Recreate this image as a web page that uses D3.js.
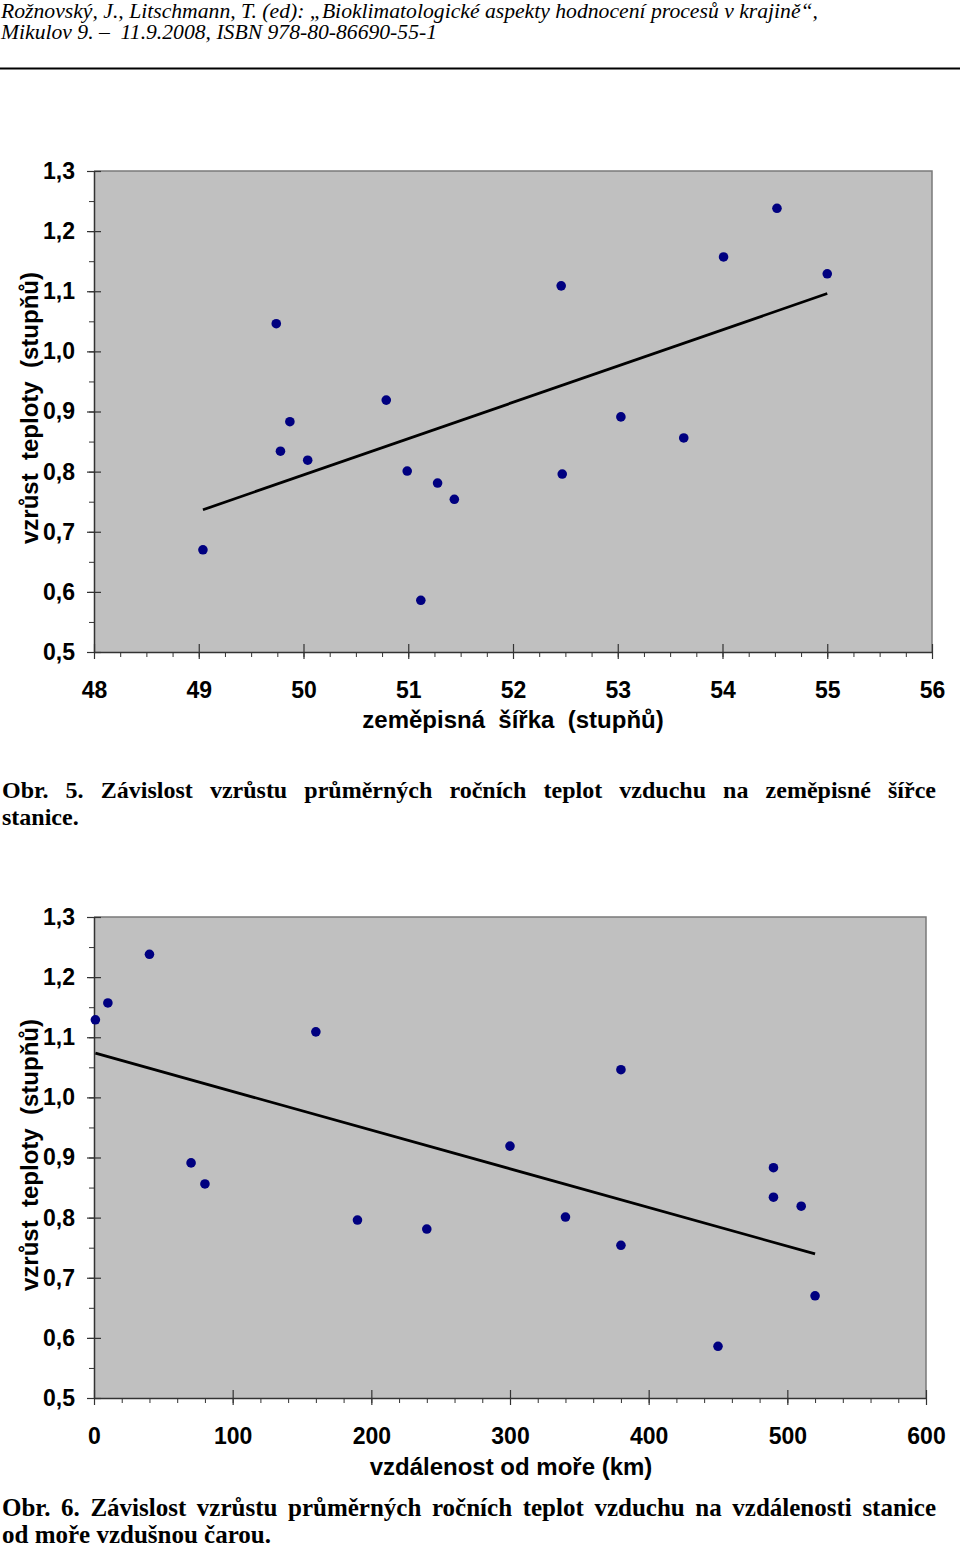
<!DOCTYPE html>
<html><head><meta charset="utf-8">
<script src="https://cdn.jsdelivr.net/npm/d3@7"></script>
<style>
body{margin:0;background:#fff;}
svg{display:block;}
</style></head>
<body>
<svg id="c" width="960" height="1548"></svg>
<script>
// ---- data ----
const latitude = [49.04, 49.74, 49.78, 49.87, 50.04, 50.79, 50.99, 51.12, 51.28, 51.44, 52.46, 52.47, 53.03, 53.63, 54.01, 54.52, 55.00];
const warming  = [0.670, 1.046, 0.834, 0.883, 0.819, 0.919, 0.801, 0.586, 0.781, 0.754, 1.109, 0.796, 0.891, 0.856, 1.157, 1.238, 1.129];
const distance = [520, 380, 490, 490, 510, 300, 340, 450, 240, 380, 160, 190, 70, 80, 10, 40, 1];
const latTicks = [48, 49, 50, 51, 52, 53, 54, 55, 56];
const distTicks = [0, 100, 200, 300, 400, 500, 600];
const yTicks = [0.5, 0.6, 0.7, 0.8, 0.9, 1.0, 1.1, 1.2, 1.3];
const headerLines = ["Rožnovský, J., Litschmann, T. (ed): „Bioklimatologické aspekty hodnocení procesů v krajině“,",
                     "Mikulov 9. –  11.9.2008, ISBN 978-80-86690-55-1"];
const caption5 = ["Obr. 5. Závislost vzrůstu průměrných ročních teplot vzduchu na zeměpisné šířce", "stanice."];
const caption6 = ["Obr. 6. Závislost vzrůstu průměrných ročních teplot vzduchu na vzdálenosti stanice", "od moře vzdušnou čarou."];

const svg = d3.select("#c");

// header
headerLines.forEach((t, i) => {
  svg.append("text").attr("x", 1).attr("y", 18 + i * 21)
    .attr("font-family", "Liberation Serif").attr("font-style", "italic")
    .attr("font-size", 20.5).attr("fill", "#000")
    .attr("textLength", i === 0 ? 817 : 436).attr("lengthAdjust", "spacingAndGlyphs")
    .style("white-space", "pre")
    .text(t);
});
svg.append("line").attr("x1", 0).attr("x2", 960).attr("y1", 68.5).attr("y2", 68.5)
  .attr("stroke", "#000").attr("stroke-width", 2);

function caption(lines, y0, size) {
  lines.forEach((t, i) => {
    const el = svg.append("text").attr("x", 2).attr("y", y0 + i * 27)
      .attr("font-family", "Liberation Serif").attr("font-weight", "bold")
      .attr("font-size", size).attr("fill", "#000").text(t);
    if (i === 0) {
      const w = el.node().getComputedTextLength();
      const n = t.split(" ").length - 1;
      el.attr("word-spacing", (936 - 2 - w) / n);
    }
  });
}
caption(caption5, 798, 24);
caption(caption6, 1516, 25);

function regression(xs, ys) {
  const mx = d3.mean(xs), my = d3.mean(ys);
  let sxy = 0, sxx = 0;
  xs.forEach((x, i) => { sxy += (x - mx) * (ys[i] - my); sxx += (x - mx) * (x - mx); });
  const b = sxy / sxx;
  return x => my + b * (x - mx);
}

function chart(opt) {
  const {xs, ys, x0, x1, y0, y1, xDomain, xTicks, xMinorStep, xTitle, titleX, titleY, yTitleCenter} = opt;
  const g = svg.append("g");
  const x = d3.scaleLinear().domain(xDomain).range([x0, x1]);
  const y = d3.scaleLinear().domain([0.5, 1.3]).range([y1, y0]);
  const font = "Liberation Sans";

  g.append("rect").attr("x", x0).attr("y", y0).attr("width", x1 - x0).attr("height", y1 - y0)
    .attr("fill", "#c0c0c0");
  g.append("path").attr("d", `M${x0},${y0}H${x1}V${y1}`).attr("fill", "none")
    .attr("stroke", "#7a7a7a").attr("stroke-width", 1.5);

  // minor ticks
  const xMinor = d3.range(xDomain[0], xDomain[1] + 1e-9, xMinorStep);
  const yMinor = d3.range(0.5, 1.3 + 1e-9, 0.05);
  g.append("g").attr("transform", `translate(0,${y1})`)
    .call(d3.axisBottom(x).tickValues(xMinor).tickSize(5).tickFormat(""))
    .call(a => a.select(".domain").remove())
    .call(a => a.selectAll("line").attr("stroke", "#333"));
  g.append("g").attr("transform", `translate(${x0},0)`)
    .call(d3.axisLeft(y).tickValues(yMinor).tickSize(5).tickFormat(""))
    .call(a => a.select(".domain").remove())
    .call(a => a.selectAll("line").attr("stroke", "#333"));

  // major ticks
  const xa = g.append("g").attr("transform", `translate(0,${y1})`)
    .call(d3.axisBottom(x).tickValues(xTicks).tickSizeInner(7).tickSizeOuter(0).tickPadding(23)
      .tickFormat(d3.format("d")));
  xa.select(".domain").attr("stroke", "#333").attr("stroke-width", 1.5);
  xa.selectAll(".tick line").attr("y1", -8).attr("stroke", "#333").attr("stroke-width", 1.2);
  xa.selectAll("text").attr("font-family", font).attr("font-weight", "bold")
    .attr("font-size", 23).attr("fill", "#000");

  const ya = g.append("g").attr("transform", `translate(${x0},0)`)
    .call(d3.axisLeft(y).tickValues(yTicks).tickSizeInner(7).tickSizeOuter(0).tickPadding(12)
      .tickFormat(d => d3.format(".1f")(d).replace(".", ",")));
  ya.select(".domain").attr("stroke", "#333").attr("stroke-width", 1.5);
  ya.selectAll(".tick line").attr("x1", 7).attr("x2", -7).attr("stroke", "#333").attr("stroke-width", 1.2);
  ya.selectAll("text").attr("font-family", font).attr("font-weight", "bold")
    .attr("font-size", 23).attr("fill", "#000");

  // regression line
  const f = regression(xs, ys);
  const ex = d3.extent(xs);
  g.append("line").attr("x1", x(ex[0])).attr("x2", x(ex[1]))
    .attr("y1", y(f(ex[0]))).attr("y2", y(f(ex[1])))
    .attr("stroke", "#000").attr("stroke-width", 2.8);

  // points
  g.selectAll("circle.pt").data(xs.map((v, i) => [v, ys[i]])).join("circle")
    .attr("class", "pt").attr("cx", d => x(d[0])).attr("cy", d => y(d[1]))
    .attr("r", 4.8).attr("fill", "#000080");

  // titles
  g.append("text").attr("x", titleX).attr("y", titleY).attr("text-anchor", "middle")
    .attr("font-family", font).attr("font-weight", "bold").attr("font-size", 24)
    .style("white-space", "pre").text(xTitle);
  g.append("text").attr("transform", `translate(38,${yTitleCenter}) rotate(-90)`)
    .attr("text-anchor", "middle")
    .attr("font-family", font).attr("font-weight", "bold").attr("font-size", 24)
    .style("white-space", "pre").text("vzrůst  teploty  (stupňů)");
}

chart({xs: latitude, ys: warming, x0: 94, x1: 932, y0: 171, y1: 652,
  xDomain: [48, 56], xTicks: latTicks, xMinorStep: 0.25,
  xTitle: "zeměpisná  šířka  (stupňů)", titleX: 513, titleY: 728, yTitleCenter: 408});
chart({xs: distance, ys: warming, x0: 94, x1: 926, y0: 917, y1: 1398,
  xDomain: [0, 600], xTicks: distTicks, xMinorStep: 20,
  xTitle: "vzdálenost od moře (km)", titleX: 511, titleY: 1475, yTitleCenter: 1155});
</script>
</body></html>
